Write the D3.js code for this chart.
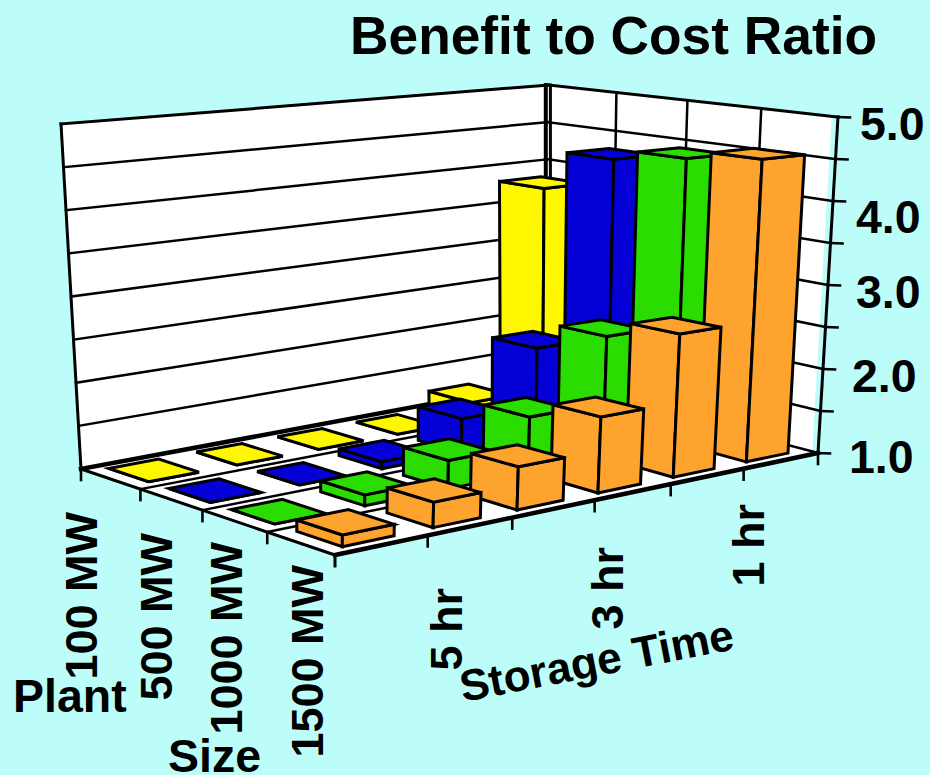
<!DOCTYPE html>
<html>
<head>
<meta charset="utf-8">
<script src="https://cdn.jsdelivr.net/npm/d3@7/dist/d3.min.js"></script>
<style>
html,body{margin:0;padding:0;background:#BDFDF9;overflow:hidden}
text{font-family:"Liberation Sans",Arial,sans-serif;font-weight:bold;fill:#000}
</style>
</head>
<body>
<svg id="chart" width="930" height="775"></svg>
<script>
// Benefit-to-cost ratio by plant size and storage time
const storageTimes = ["6 hr", "5 hr", "4 hr", "3 hr", "2 hr", "1 hr"];
const storageLabels = ["5 hr", "3 hr", "1 hr"];
const plantSizes = ["100 MW", "500 MW", "1000 MW", "1500 MW"];
const ratio100 = [1.0, 1.0, 1.0, 1.0, 1.22, 3.81];
const ratio500 = [1.0, 1.0, 1.08, 1.41, 2.1, 4.31];
const ratio1000 = [1.0, 1.12, 1.32, 1.64, 2.43, 4.44];
const ratio1500 = [1.12, 1.27, 1.47, 1.85, 2.64, 4.55];
const seriesValues = [ratio100, ratio500, ratio1000, ratio1500];
const seriesColors = ["#FFF700", "#0500D5", "#2ADC00", "#FFA32F"];
const valueTicks = d3.range(1, 5.01, 0.5);
const valueLabels = [1, 2, 3, 4, 5];

const svg = d3.select("#chart");

// Box axes: column, row and value run through scales onto the unit cube.
// The column scale is piecewise because the drawn cells are not quite even.
const uScale = d3.scaleLinear()
  .domain([0, 1, 2, 3, 4, 5, 6])
  .range([0, 0.1777, 0.3453, 0.5140, 0.6747, 0.8333, 1]);
const vScale = d3.scaleLinear().domain([0, plantSizes.length]).range([0, 1]);
const zScale = d3.scaleLinear().domain([1, 5]).range([0, 1]);

// Camera: the floor and ceiling planes of the box are each a perspective quad
const floorCorners = [[81, 469], [548, 382], [818, 453], [335, 555]];
const ceilingCorners = [[61, 124], [548, 85], [838, 117], [340, 163]];

function quadMap([[x0, y0], [x1, y1], [x2, y2], [x3, y3]]) {
  const dx1 = x1 - x2, dx2 = x3 - x2, sx = x0 - x1 + x2 - x3;
  const dy1 = y1 - y2, dy2 = y3 - y2, sy = y0 - y1 + y2 - y3;
  const den = dx1 * dy2 - dx2 * dy1;
  const g = (sx * dy2 - dx2 * sy) / den;
  const h = (dx1 * sy - sx * dy1) / den;
  const a = x1 - x0 + g * x1, b = x3 - x0 + h * x3;
  const d = y1 - y0 + g * y1, e = y3 - y0 + h * y3;
  return (u, v) => {
    const w = g * u + h * v + 1;
    return [(a * u + b * v + x0) / w, (d * u + e * v + y0) / w];
  };
}
const floorMap = quadMap(floorCorners);
const ceilingMap = quadMap(ceilingCorners);
const project = (u, v, z) => {
  const f = floorMap(u, v), c = ceilingMap(u, v);
  return [f[0] + (c[0] - f[0]) * z, f[1] + (c[1] - f[1]) * z];
};

const pathOf = pts => "M" + pts.map(p => p.map(n => n.toFixed(2)).join(",")).join("L") + "Z";
const lineOf = pts => "M" + pts.map(p => p.map(n => n.toFixed(2)).join(",")).join("L");

function addLine(g, pts, width) {
  g.append("path").attr("d", lineOf(pts)).attr("fill", "none")
    .attr("stroke", "#000").attr("stroke-width", width).attr("stroke-linecap", "square");
}

// Walls and floor
const box = svg.append("g");
const wallEdge = 0.98;
const white = pts => box.append("path").attr("d", pathOf(pts)).attr("fill", "#fff");
white([project(0, 0, 0), project(1, 0, 0), project(1, 0, 1), project(0, 0, 1)]);
white([project(1, 0, 0), project(1, wallEdge, 0), project(1, wallEdge, 1), project(1, 0, 1)]);
white([project(0, 0, 0), project(1, 0, 0), project(1, 1, 0), project(0, 1, 0)]);

valueTicks.forEach(t => {
  const z = zScale(t);
  if (t > 1) addLine(box, [project(0, 0, z), project(1, 0, z)], t === 5 ? 3 : 2.5);
  if (t > 1) addLine(box, [project(1, 0, z), project(1, 1, z)], t === 5 ? 3 : 2.5);
  // Outward tick on the value axis
  const end = project(1, 1, z);
  addLine(box, [end, [end[0] + 12, end[1] + 0.5]], 2.6);
});
d3.range(1, plantSizes.length).forEach(r => {
  const v = vScale(r);
  addLine(box, [project(1, v, 0), project(1, v, 1)], 2.5);
  addLine(box, [project(0, v, 0), project(1, v, 0)], 2.5);
});
// Box outline
addLine(box, [project(0, 0, 0), project(0, 0, 1)], 3);
addLine(box, [project(1, 1, 0), project(1, 1, 1)], 3);
addLine(box, [project(0, 0, 0), project(1, 0, 0)], 4.5);
addLine(box, [project(1, 0, 0), project(1, 1, 0)], 2.6);
addLine(box, [project(0, 0, 0), project(0, 1, 0)], 3);
addLine(box, [project(0, 1, 0), project(1, 1, 0)], 4.5);
const spine0 = project(1, 0, 0), spine1 = project(1, 0, 1);
addLine(box, [[spine0[0] - 2.2, spine0[1]], [spine1[0] - 2.2, spine1[1]]], 4);
addLine(box, [[spine0[0] + 2.4, spine0[1]], [spine1[0] + 2.4, spine1[1]]], 3);

// Tick marks along the two floor axes
storageTimes.concat("end").forEach((_, c) => {
  const p = project(uScale(c), 1, 0);
  addLine(box, [p, [p[0], p[1] + 11]], 2.6);
});
plantSizes.concat("end").forEach((_, r) => {
  const p = project(0, vScale(r), 0);
  addLine(box, [p, [p[0], p[1] + 11]], 2.6);
});

// Bars: far row first, and within a row from the far column to the near one
const barStartU = 0.21, barEndU = 0.77, barStartV = 0.15, barEndV = 0.82;
const bars = svg.append("g");
seriesValues.forEach((values, r) => {
  d3.range(values.length - 1, -1, -1).forEach(c => {
    const u0 = uScale(c + barStartU), u1 = uScale(c + barEndU);
    const v0 = vScale(r + barStartV), v1 = vScale(r + barEndV);
    const z = zScale(values[c]);
    const faces = [
      [project(u0, v0, 0), project(u0, v1, 0), project(u0, v1, z), project(u0, v0, z)],
      [project(u0, v1, 0), project(u1, v1, 0), project(u1, v1, z), project(u0, v1, z)],
      [project(u0, v0, z), project(u1, v0, z), project(u1, v1, z), project(u0, v1, z)]
    ];
    bars.append("g").selectAll("path").data(faces).join("path")
      .attr("d", pathOf)
      .attr("fill", seriesColors[r])
      .attr("stroke", "#000")
      .attr("stroke-width", 3)
      .attr("stroke-linejoin", "miter");
  });
});

// Text
const labels = svg.append("g");
labels.append("text").text("Benefit to Cost Ratio")
  .attr("x", 350).attr("y", 54).attr("font-size", 53.3);

const valueLabelAnchor = [[849, 473], [852, 392], [856, 308], [856, 233], [860, 140]];
valueLabels.forEach((t, i) => {
  labels.append("text").text(d3.format(".1f")(t))
    .attr("x", valueLabelAnchor[i][0]).attr("y", valueLabelAnchor[i][1])
    .attr("font-size", 46.5);
});

const rotated = (txt, x, y) => labels.append("text").text(txt)
  .attr("transform", `translate(${x},${y}) rotate(-90)`)
  .attr("text-anchor", "end").attr("font-size", 45);
const plantLabelAnchor = [[97, 512], [172, 533], [242, 542], [323, 565]];
plantSizes.forEach((s, i) => rotated(s, ...plantLabelAnchor[i]));
const storageLabelAnchor = [[462, 588], [623, 547], [764, 504]];
storageLabels.forEach((s, i) => rotated(s, ...storageLabelAnchor[i]));

labels.append("text").text("Plant").attr("x", 13).attr("y", 712).attr("font-size", 46.5);
labels.append("text").text("Size").attr("x", 168).attr("y", 772).attr("font-size", 46.5);
labels.append("text").text("Storage Time")
  .attr("transform", "translate(463,702) rotate(-11)")
  .attr("font-size", 44);
</script>
</body>
</html>
